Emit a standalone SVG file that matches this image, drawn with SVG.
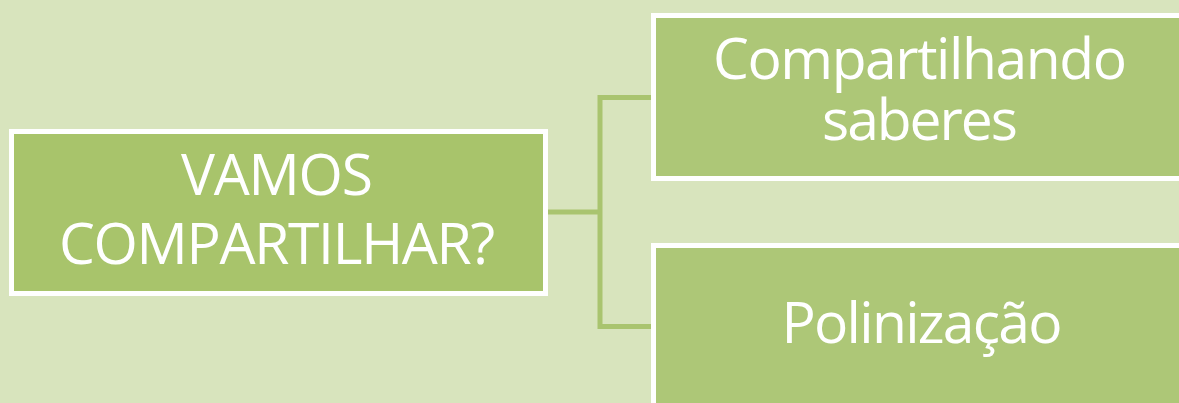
<svg xmlns="http://www.w3.org/2000/svg" width="1179" height="403" viewBox="0 0 1179 403">
<style>
.bg{fill:#d8e4bd}
.box{stroke:#ffffff;stroke-width:5}
.left{fill:#a8c46b}
.right{fill:#adc777}
.conn{fill:none;stroke:#a9c46f;stroke-width:5}
.t{font-family:"Open Sans","Liberation Sans",sans-serif;font-size:57px;fill:#ffffff;text-anchor:middle}
</style>
<rect class="bg" x="0" y="0" width="1179" height="403"/>
<g id="connectors">
<path class="conn" d="M548 212 H600 M653 97.5 H600 V326.5 H653"/>
</g>
<g id="node-root">
<rect class="box left" x="11.5" y="131.5" width="534" height="162"/>
<text class="t" x="277" y="195" textLength="192" lengthAdjust="spacing">VAMOS</text>
<text class="t" x="277" y="264" textLength="436" lengthAdjust="spacing">COMPARTILHAR?</text>
</g>
<g id="node-compartilhando">
<rect class="box right" x="653.5" y="15.5" width="534" height="163"/>
<text class="t" x="920" y="79" textLength="414" lengthAdjust="spacing">Compartilhando</text>
<text class="t" x="920" y="140" textLength="196" lengthAdjust="spacing">saberes</text>
</g>
<g id="node-polinizacao">
<rect class="box right" x="653.5" y="245.5" width="534" height="163"/>
<text class="t" x="922" y="343" textLength="281" lengthAdjust="spacing">Polinização</text>
</g>
</svg>
